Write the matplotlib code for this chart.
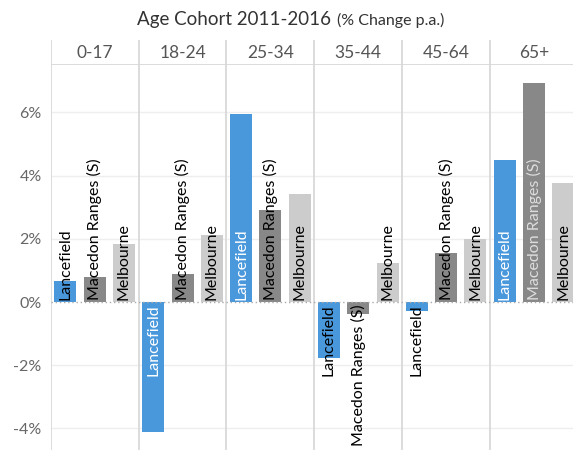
import numpy as np
import matplotlib.pyplot as plt

# data
cohorts = ["0-17", "18-24", "25-34", "35-44", "45-64", "65+"]
areas = ["Lancefield", "Macedon Ranges (S)", "Melbourne"]
lancefield = [0.66, -4.12, 5.94, -1.76, -0.28, 4.49]
macedon = [0.80, 0.89, 2.91, -0.38, 1.54, 6.94]
melbourne = [1.84, 2.12, 3.42, 1.24, 1.99, 3.76]
yticks = [-4, -2, 0, 2, 4, 6]

colors = ["#4a98dc", "#888888", "#cccccc"]
dark = [True, True, False]
FONT = "Lato"

W, H = 573, 450
fig = plt.figure(figsize=(W / 100, H / 100), dpi=100)
x0, x1 = 50.7, 578.0
body_top, hdr_top = 65.0, 40.0
ax = fig.add_axes([x0 / W, 0, (x1 - x0) / W, (H - body_top) / H])
hdr = fig.add_axes([x0 / W, (H - body_top) / H, (x1 - x0) / W, (body_top - hdr_top) / H])

n = len(cohorts)
ax.set_xlim(0, 3 * n)
zero_px, px_per = 302.0, 31.6
ax.set_ylim(-(H - zero_px) / px_per, (zero_px - body_top) / px_per)

series = [lancefield, macedon, melbourne]
for j, vals in enumerate(series):
    xs = np.arange(n) * 3 + 0.5 + j
    ax.bar(xs, vals, width=0.75, color=colors[j], zorder=2)

# grid, panel lines, zero line
for t in yticks:
    if t != 0:
        ax.axhline(t, color="#eeeeee", lw=1, zorder=0)
ax.axhline(0, color="#aaaaaa", lw=1, ls=(0, (1, 2)), zorder=3)
for k in range(n + 1):
    ax.axvline(3 * k, color="#d6d6d6", lw=1.2, zorder=1)
    hdr.axvline(3 * k, color="#d6d6d6", lw=1.2)

for s in ax.spines.values():
    s.set_visible(False)
ax.set_xticks([])
ax.set_yticks(yticks)
ax.set_yticklabels([f"{t}%" for t in yticks], fontfamily=FONT, fontsize=11.5, color="#666666")
ax.tick_params(axis="y", length=0, pad=6.5)

# header row
hdr.set_xlim(0, 3 * n)
hdr.set_ylim(0, 1)
hdr.axis("off")
hdr.axhline(0, color="#d6d6d6", lw=1.2)
for k, c in enumerate(cohorts):
    hdr.text(3 * k + 1.5, 0.5, c, ha="center", va="center", fontfamily=FONT,
             fontsize=12.5, color="#555555")

# bar labels, white when the text fits inside a dark bar
labels = []
pad = 2.5 / px_per
for j, vals in enumerate(series):
    for k, v in enumerate(vals):
        xc = 3 * k + 0.5 + j
        if v >= 0:
            t = ax.text(xc, pad, areas[j], rotation=90, ha="center", va="bottom",
                        fontfamily=FONT, fontsize=11.5, color="black", zorder=4)
        else:
            t = ax.text(xc, -pad, areas[j], rotation=90, ha="center", va="top",
                        fontfamily=FONT, fontsize=11.5, color="black", zorder=4)
        labels.append((t, j, v))

fig.canvas.draw()
r = fig.canvas.get_renderer()
for t, j, v in labels:
    h = t.get_window_extent(r).height
    if dark[j] and abs(v) * px_per > h + 4:
        t.set_color("white" if j == 0 else "#dddddd")

# title
t1 = fig.text(137 / W, 1 - 19 / H, "Age Cohort 2011-2016", ha="left", va="center",
              fontfamily=FONT, fontsize=13.5, color="#333333")
fig.canvas.draw()
bb = t1.get_window_extent(fig.canvas.get_renderer())
fig.text((bb.x1 + 6) / W, 1 - 20 / H, "(% Change p.a.)", ha="left", va="center",
         fontfamily=FONT, fontsize=11.5, color="#333333")

fig.savefig("out.png", dpi=100)
